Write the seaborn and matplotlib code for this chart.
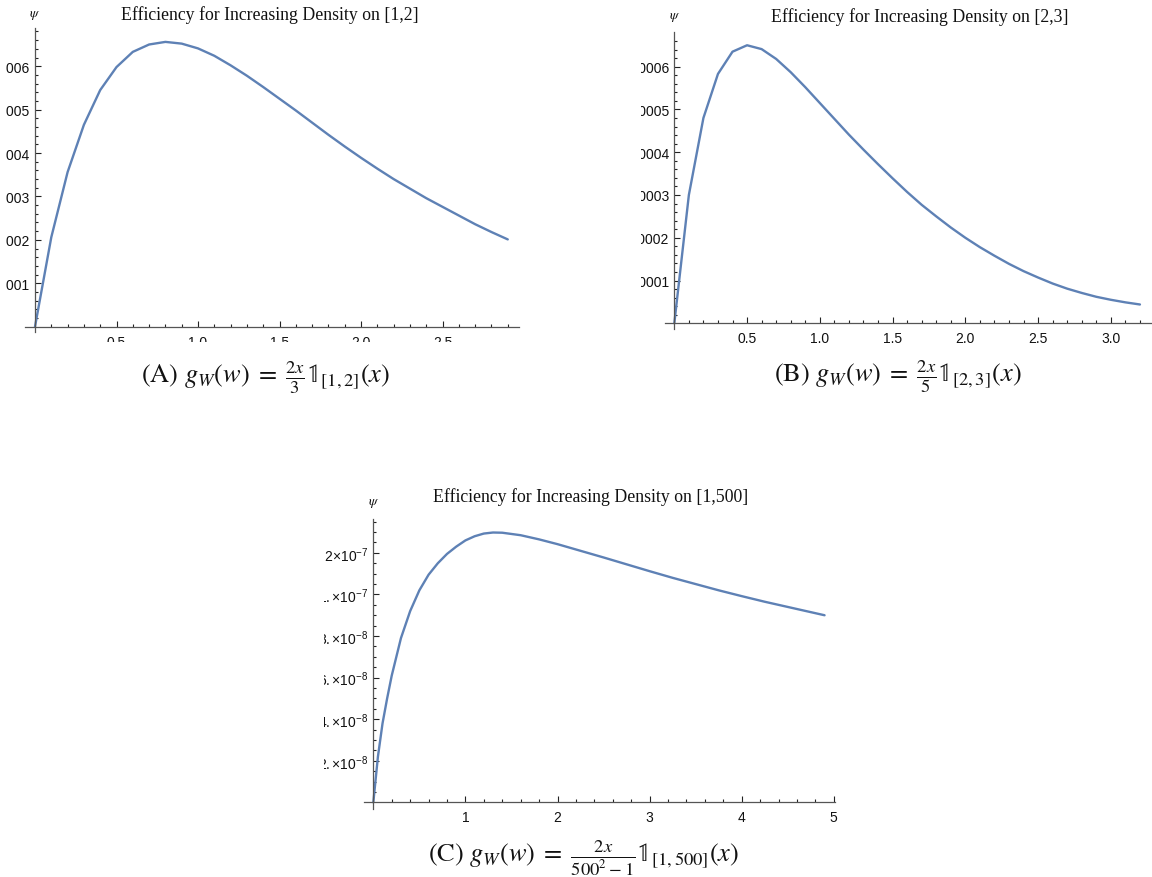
import numpy as np
import pandas as pd
import matplotlib
matplotlib.use("Agg")
import matplotlib.pyplot as plt
import seaborn as sns
from matplotlib.transforms import Bbox, TransformedBbox

# ---------------- data ----------------
# Panel A: increasing density on [1,2]  (psi values, units of 1e-5)
xa = [0.0, 0.1, 0.2, 0.3, 0.4, 0.5, 0.6, 0.7, 0.8, 0.9, 1.0, 1.1, 1.2, 1.3, 1.4,
      1.5, 1.6, 1.7, 1.8, 1.9, 2.0, 2.1, 2.2, 2.3, 2.4, 2.5, 2.6, 2.7, 2.8, 2.9]
ya = [0.0, 2.06, 3.56, 4.65, 5.45, 5.98, 6.33, 6.50, 6.56, 6.52, 6.41, 6.24, 6.02,
      5.78, 5.52, 5.25, 4.98, 4.70, 4.42, 4.15, 3.89, 3.64, 3.40, 3.18, 2.96, 2.76,
      2.56, 2.36, 2.18, 2.01]

# Panel B: increasing density on [2,3]  (units of 1e-5)
xb = [0.0, 0.1, 0.2, 0.3, 0.4, 0.5, 0.6, 0.7, 0.8, 0.9, 1.0, 1.1, 1.2, 1.3, 1.4, 1.5,
      1.6, 1.7, 1.8, 1.9, 2.0, 2.1, 2.2, 2.3, 2.4, 2.5, 2.6, 2.7, 2.8, 2.9, 3.0, 3.1, 3.2]
yb = [0.0, 3.00, 4.80, 5.83, 6.35, 6.50, 6.41, 6.18, 5.87, 5.52, 5.15, 4.78, 4.41, 4.06,
      3.72, 3.39, 3.07, 2.77, 2.50, 2.24, 2.00, 1.78, 1.58, 1.39, 1.22, 1.07, 0.93, 0.81,
      0.71, 0.62, 0.55, 0.49, 0.44]

# Panel C: increasing density on [1,500]  (units of 1e-8)
xc = [0.0, 0.05, 0.1, 0.15, 0.2, 0.25, 0.3, 0.4, 0.5, 0.6, 0.7, 0.8, 0.9, 1.0, 1.1, 1.2,
      1.3, 1.4, 1.6, 1.8, 2.0, 2.25, 2.5, 2.75, 3.0, 3.25, 3.5, 3.75, 4.0, 4.25, 4.5,
      4.75, 4.9]
yc = [0.0, 2.2, 3.8, 5.0, 6.1, 7.0, 7.9, 9.2, 10.2, 10.95, 11.5, 11.95, 12.3, 12.6, 12.8,
      12.93, 12.98, 12.97, 12.85, 12.65, 12.42, 12.1, 11.78, 11.45, 11.12, 10.8, 10.5,
      10.2, 9.92, 9.65, 9.4, 9.15, 9.0]

titles = ["Efficiency for Increasing Density on [1,2]",
          "Efficiency for Increasing Density on [2,3]",
          "Efficiency for Increasing Density on [1,500]"]
captions = [r"(A) $g_W(w)\;=\;\frac{2x}{3}\mathbb{1}_{[1,2]}(x)$",
            r"(B) $g_W(w)\;=\;\frac{2x}{5}\mathbb{1}_{[2,3]}(x)$",
            r"(C) $g_W(w)\;=\;\frac{2x}{500^2-1}\mathbb{1}_{[1,500]}(x)$"]

xa_major = [0.5, 1.0, 1.5, 2.0, 2.5]
xa_labels = ["0.5", "1.0", "1.5", "2.0", "2.5"]
ya_major = [1, 2, 3, 4, 5, 6]
ya_labels = ["0.00001", "0.00002", "0.00003", "0.00004", "0.00005", "0.00006"]

xb_major = [0.5, 1.0, 1.5, 2.0, 2.5, 3.0]
xb_labels = ["0.5", "1.0", "1.5", "2.0", "2.5", "3.0"]
yb_major = [1, 2, 3, 4, 5, 6]
yb_labels = ["0.00001", "0.00002", "0.00003", "0.00004", "0.00005", "0.00006"]

xc_major = [1, 2, 3, 4, 5]
xc_labels = ["1", "2", "3", "4", "5"]
yc_major = [2, 4, 6, 8, 10, 12]
yc_labels = [r"$2.{\times}10^{-8}$", r"$4.{\times}10^{-8}$", r"$6.{\times}10^{-8}$",
             r"$8.{\times}10^{-8}$", r"$1.{\times}10^{-7}$", r"$1.2{\times}10^{-7}$"]

# ---------------- style ----------------
sns.set_theme(style="white")
plt.rcParams["font.family"] = ["Liberation Sans", "DejaVu Sans"]
plt.rcParams["mathtext.fontset"] = "custom"
plt.rcParams["mathtext.rm"] = "Liberation Sans"
plt.rcParams["mathtext.it"] = "Liberation Sans:italic"
plt.rcParams["mathtext.bf"] = "Liberation Sans:bold"

LINE = "#5E81B5"
W, H = 1152, 878
fig = plt.figure(figsize=(W / 100, H / 100), dpi=100)
fig.patch.set_facecolor("white")


def px_axes(l, r, t, b):
    return fig.add_axes([l / W, 1 - b / H, (r - l) / W, (b - t) / H])


def style_axes(ax, xlim, ylim, xmaj, xlab, xminor, ymaj, ylab, yminor):
    ax.set_facecolor("white")
    ax.set_xlim(*xlim)
    ax.set_ylim(*ylim)
    for s in ["top", "right"]:
        ax.spines[s].set_visible(False)
    for s in ["left", "bottom"]:
        ax.spines[s].set_position(("data", 0))
        ax.spines[s].set_color("#555555")
        ax.spines[s].set_linewidth(0.9)
    ax.set_xticks(xmaj, xlab)
    ax.set_xticks(xminor, minor=True)
    ax.set_yticks(ymaj, ylab)
    ax.set_yticks(yminor, minor=True)
    ax.tick_params(which="both", direction="in", color="#222222", width=0.8,
                   bottom=True, left=True, top=False, right=False,
                   labelsize=10, labelcolor="#111111")
    ax.tick_params(which="major", length=4.2)
    ax.tick_params(which="minor", length=2.4)
    ax.tick_params(axis="y", which="major", pad=3.6)
    ax.tick_params(axis="x", which="major", pad=5.8)
    ax.set_xlabel("")
    ax.set_ylabel("")
    ax.grid(False)


def clip_labels(axis, x0=0.0, ybottom=H):
    bb = TransformedBbox(Bbox.from_extents(x0 / W, 1 - ybottom / H, 1, 1), fig.transFigure)
    for t in axis.get_major_ticks():
        t.label1.set_clip_box(bb)
        t.label1.set_clip_on(True)


# ---------------- Panel A ----------------
axA = px_axes(25, 519, 29, 333)
sns.lineplot(x=xa, y=ya, ax=axA, color=LINE, linewidth=1.7, sort=False)
style_axes(axA, (-0.0613, 2.969), (-0.123, 6.88),
           xa_major, xa_labels, [round(0.1 * i, 1) for i in range(1, 30)],
           ya_major, ya_labels, [round(0.2 * i, 1) for i in range(1, 35)])
clip_labels(axA.yaxis, x0=6)
clip_labels(axA.xaxis, ybottom=343)

# ---------------- Panel B ----------------
axB = px_axes(665, 1151, 33, 330)
sns.lineplot(x=xb, y=yb, ax=axB, color=LINE, linewidth=1.7, sort=False)
style_axes(axB, (-0.064, 3.276), (-0.133, 6.81),
           xb_major, xb_labels, [round(0.1 * i, 1) for i in range(1, 33)],
           yb_major, yb_labels, [round(0.2 * i, 1) for i in range(1, 34)])
clip_labels(axB.yaxis, x0=641)

# ---------------- Panel C ----------------
axC = px_axes(364.3, 834.5, 520, 810)
sns.lineplot(x=xc, y=yc, ax=axC, color=LINE, linewidth=1.7, sort=False)
style_axes(axC, (-0.098, 5.008), (-0.32, 13.63),
           xc_major, xc_labels, [round(0.2 * i, 1) for i in range(1, 26)],
           yc_major, yc_labels, [round(0.5 * i, 1) for i in range(1, 28)])
clip_labels(axC.yaxis, x0=324)

# ---------------- titles, psi labels, captions ----------------
title_pos = [(270, 15), (920, 17.5), (591, 497)]
psi_pos = [(35, 15), (675, 17), (374, 503)]
cap_pos = [(266, 378), (898, 377), (584, 858)]
for (tx, ty), t in zip(title_pos, titles):
    fig.text(tx / W, 1 - ty / H, t, ha="center", va="center",
             family="Liberation Serif", fontsize=12.8, color="#111111")
for (px, py) in psi_pos:
    fig.text(px / W, 1 - py / H, r"$\psi$", ha="center", va="center",
             fontsize=10, math_fontfamily="stix", color="#111111")
for (cx, cy), c in zip(cap_pos, captions):
    fig.text(cx / W, 1 - cy / H, c, ha="center", va="center",
             family="STIXGeneral", math_fontfamily="stix", fontsize=19, color="#111111")

fig.savefig("out.png", dpi=100, facecolor="white")
